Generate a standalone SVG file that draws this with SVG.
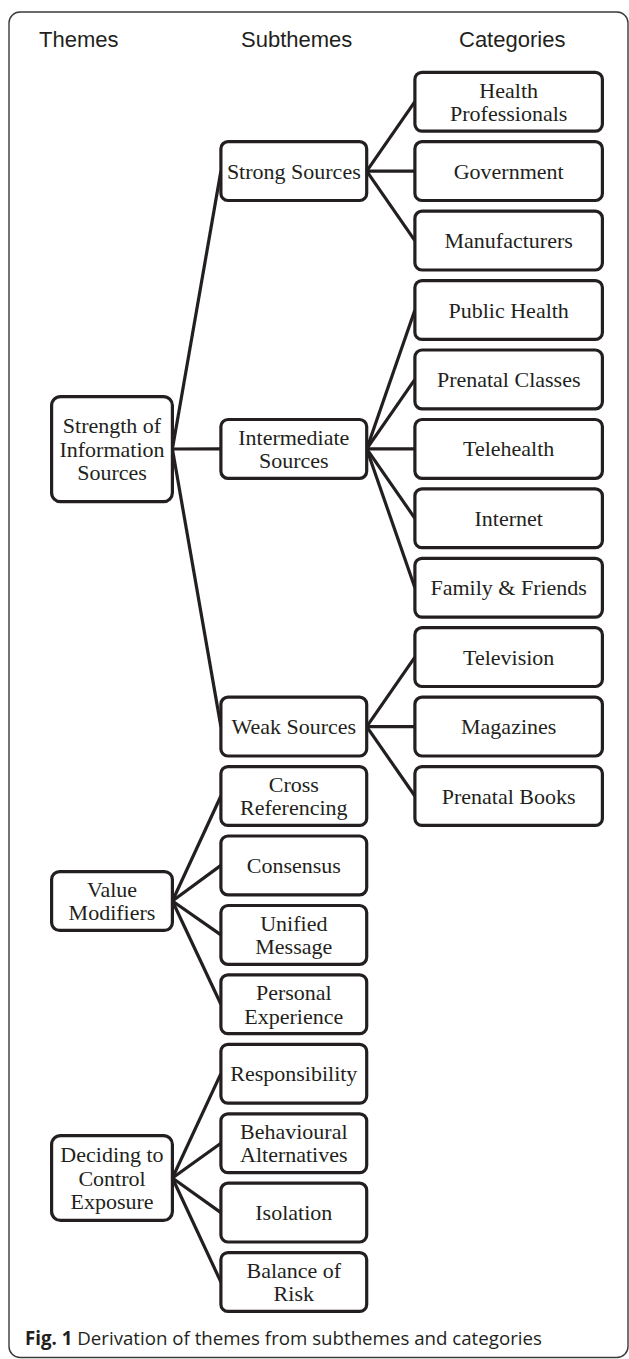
<svg xmlns="http://www.w3.org/2000/svg" width="629" height="1359" viewBox="0 0 629 1359">
<style>
.frame{fill:none;stroke:#3a3a3a;stroke-width:1.4}
.hdr{font-family:"Liberation Sans",Arial,sans-serif;font-size:22px;fill:#231f20}
.box{fill:#fff;stroke:#231f20;stroke-width:3.2}
.lbl{font-family:"Liberation Serif","Times New Roman",serif;font-size:22px;fill:#231f20;text-anchor:middle}
.con line{stroke:#231f20;stroke-width:3.2;fill:none}
.cap{font-family:"Open Sans","Noto Sans",sans-serif;font-size:18.7px;fill:#231f20}
</style>
<rect class="frame" x="9" y="12" width="619" height="1345.5" rx="11"/>
<text class="hdr" x="39" y="47">Themes</text>
<text class="hdr" x="241" y="47">Subthemes</text>
<text class="hdr" x="459" y="47">Categories</text>

<g id="connectors" class="con">
<line x1="172.4" y1="449" x2="220.9" y2="171.1"/>
<line x1="172.4" y1="449" x2="220.9" y2="448.9"/>
<line x1="172.4" y1="449" x2="220.9" y2="726.6"/>
<line x1="366.7" y1="171.1" x2="414.9" y2="101.7"/>
<line x1="366.7" y1="171.1" x2="414.9" y2="171.1"/>
<line x1="366.7" y1="171.1" x2="414.9" y2="240.6"/>
<line x1="366.7" y1="448.9" x2="414.9" y2="310.0"/>
<line x1="366.7" y1="448.9" x2="414.9" y2="379.4"/>
<line x1="366.7" y1="448.9" x2="414.9" y2="448.9"/>
<line x1="366.7" y1="448.9" x2="414.9" y2="518.3"/>
<line x1="366.7" y1="448.9" x2="414.9" y2="587.7"/>
<line x1="366.7" y1="726.6" x2="414.9" y2="657.1"/>
<line x1="366.7" y1="726.6" x2="414.9" y2="726.6"/>
<line x1="366.7" y1="726.6" x2="414.9" y2="796.0"/>
<line x1="172.4" y1="901" x2="220.9" y2="796.0"/>
<line x1="172.4" y1="901" x2="220.9" y2="865.4"/>
<line x1="172.4" y1="901" x2="220.9" y2="934.9"/>
<line x1="172.4" y1="901" x2="220.9" y2="1004.3"/>
<line x1="172.4" y1="1178" x2="220.9" y2="1073.7"/>
<line x1="172.4" y1="1178" x2="220.9" y2="1143.2"/>
<line x1="172.4" y1="1178" x2="220.9" y2="1212.6"/>
<line x1="172.4" y1="1178" x2="220.9" y2="1282.0"/>
</g>

<g id="theme-strength"><rect class="box" x="51.6" y="396.6" width="120.8" height="105.1" rx="9"/><text class="lbl" x="112" y="433.3">Strength of</text><text class="lbl" x="112" y="456.5">Information</text><text class="lbl" x="112" y="479.8">Sources</text></g>
<g id="theme-value"><rect class="box" x="51.6" y="871.6" width="120.8" height="58.8" rx="8"/><text class="lbl" x="112" y="896.8">Value</text><text class="lbl" x="112" y="920.2">Modifiers</text></g>
<g id="theme-deciding"><rect class="box" x="51.6" y="1135.6" width="120.8" height="84.8" rx="9"/><text class="lbl" x="112" y="1162.3">Deciding to</text><text class="lbl" x="112" y="1185.5">Control</text><text class="lbl" x="112" y="1208.8">Exposure</text></g>

<g id="sub-strong"><rect class="box" x="220.9" y="141.7" width="145.8" height="58.8" rx="7"/><text class="lbl" x="293.8" y="178.6">Strong Sources</text></g>
<g id="sub-intermediate"><rect class="box" x="220.9" y="419.5" width="145.8" height="58.8" rx="7"/><text class="lbl" x="293.8" y="444.7">Intermediate</text><text class="lbl" x="293.8" y="468.1">Sources</text></g>
<g id="sub-weak"><rect class="box" x="220.9" y="697.2" width="145.8" height="58.8" rx="7"/><text class="lbl" x="293.8" y="734.1">Weak Sources</text></g>
<g id="sub-cross"><rect class="box" x="220.9" y="766.6" width="145.8" height="58.8" rx="7"/><text class="lbl" x="293.8" y="791.8">Cross</text><text class="lbl" x="293.8" y="815.2">Referencing</text></g>
<g id="sub-consensus"><rect class="box" x="220.9" y="836.0" width="145.8" height="58.8" rx="7"/><text class="lbl" x="293.8" y="872.9">Consensus</text></g>
<g id="sub-unified"><rect class="box" x="220.9" y="905.5" width="145.8" height="58.8" rx="7"/><text class="lbl" x="293.8" y="930.7">Unified</text><text class="lbl" x="293.8" y="954.1">Message</text></g>
<g id="sub-personal"><rect class="box" x="220.9" y="974.9" width="145.8" height="58.8" rx="7"/><text class="lbl" x="293.8" y="1000.1">Personal</text><text class="lbl" x="293.8" y="1023.5">Experience</text></g>
<g id="sub-responsibility"><rect class="box" x="220.9" y="1044.3" width="145.8" height="58.8" rx="7"/><text class="lbl" x="293.8" y="1081.2">Responsibility</text></g>
<g id="sub-behavioural"><rect class="box" x="220.9" y="1113.8" width="145.8" height="58.8" rx="7"/><text class="lbl" x="293.8" y="1139.0">Behavioural</text><text class="lbl" x="293.8" y="1162.4">Alternatives</text></g>
<g id="sub-isolation"><rect class="box" x="220.9" y="1183.2" width="145.8" height="58.8" rx="7"/><text class="lbl" x="293.8" y="1220.1">Isolation</text></g>
<g id="sub-balance"><rect class="box" x="220.9" y="1252.6" width="145.8" height="58.8" rx="7"/><text class="lbl" x="293.8" y="1277.8">Balance of</text><text class="lbl" x="293.8" y="1301.2">Risk</text></g>

<g id="cat-health"><rect class="box" x="414.9" y="72.3" width="187.5" height="58.8" rx="7"/><text class="lbl" x="508.7" y="97.5">Health</text><text class="lbl" x="508.7" y="120.9">Professionals</text></g>
<g id="cat-government"><rect class="box" x="414.9" y="141.7" width="187.5" height="58.8" rx="7"/><text class="lbl" x="508.7" y="178.6">Government</text></g>
<g id="cat-manufacturers"><rect class="box" x="414.9" y="211.2" width="187.5" height="58.8" rx="7"/><text class="lbl" x="508.7" y="248.1">Manufacturers</text></g>
<g id="cat-publichealth"><rect class="box" x="414.9" y="280.6" width="187.5" height="58.8" rx="7"/><text class="lbl" x="508.7" y="317.5">Public Health</text></g>
<g id="cat-prenatalclasses"><rect class="box" x="414.9" y="350.0" width="187.5" height="58.8" rx="7"/><text class="lbl" x="508.7" y="386.9">Prenatal Classes</text></g>
<g id="cat-telehealth"><rect class="box" x="414.9" y="419.5" width="187.5" height="58.8" rx="7"/><text class="lbl" x="508.7" y="456.4">Telehealth</text></g>
<g id="cat-internet"><rect class="box" x="414.9" y="488.9" width="187.5" height="58.8" rx="7"/><text class="lbl" x="508.7" y="525.8">Internet</text></g>
<g id="cat-family"><rect class="box" x="414.9" y="558.3" width="187.5" height="58.8" rx="7"/><text class="lbl" x="508.7" y="595.2">Family &amp; Friends</text></g>
<g id="cat-television"><rect class="box" x="414.9" y="627.7" width="187.5" height="58.8" rx="7"/><text class="lbl" x="508.7" y="664.6">Television</text></g>
<g id="cat-magazines"><rect class="box" x="414.9" y="697.2" width="187.5" height="58.8" rx="7"/><text class="lbl" x="508.7" y="734.1">Magazines</text></g>
<g id="cat-prenatalbooks"><rect class="box" x="414.9" y="766.6" width="187.5" height="58.8" rx="7"/><text class="lbl" x="508.7" y="803.5">Prenatal Books</text></g>

<text class="cap" x="25" y="1345"><tspan font-weight="bold">Fig. 1</tspan> Derivation of themes from subthemes and categories</text>
</svg>
